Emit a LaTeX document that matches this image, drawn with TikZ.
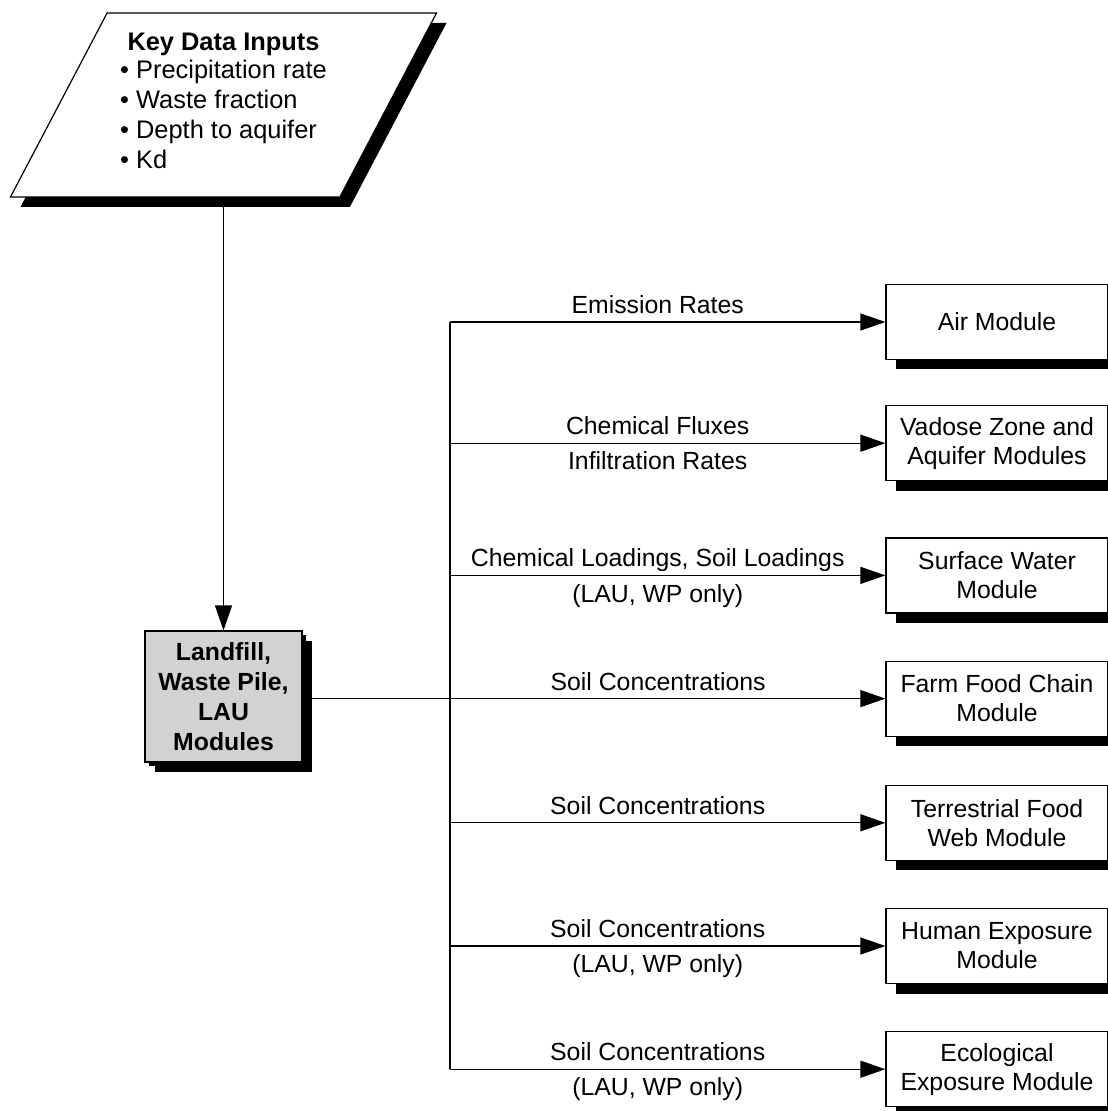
\documentclass[tikz,border=0pt]{standalone}
\usepackage{fontspec}
\setmainfont{Liberation Sans}
\usetikzlibrary{positioning,arrows.meta,shapes.geometric,shadows}

\begin{document}
\begin{tikzpicture}[
    x=0.5pt,
    y=-0.5pt,
    font=\fontsize{12.4}{14.5}\selectfont,
    module/.style={
        draw,
        line width=0.6pt,
        fill=white,
        minimum width=111pt,
        minimum height=37.5pt,
        align=center,
        drop shadow={shadow xshift=5pt, shadow yshift=-5pt, fill=black, opacity=1}
    },
    source/.style={
        module,
        fill=gray!35,
        font=\fontsize{12.4}{15}\selectfont\bfseries,
        minimum width=78.5pt,
        minimum height=65.5pt,
        drop shadow={shadow xshift=2pt, shadow yshift=-2pt, fill=black, opacity=1}
    },
    inputs/.style={
        module,
        trapezium,
        trapezium left angle=60,
        trapezium right angle=120,
        trapezium stretches=true,
        minimum width=213.5pt,
        minimum height=92pt,
        font=\fontsize{12.7}{15}\selectfont
    },
    arrow/.style={-{Triangle[length=12.5pt, width=8.5pt]}, line width=0.6pt},
    lbl/.style={inner sep=0pt, text height=9pt, text depth=3pt},
    up/.style={lbl, above=1pt},
    down/.style={lbl, below=4pt}
]
\useasboundingbox (0,0) rectangle (1107,1111);

% ============================================================
% WEJSCIA I MODUL ZRODLA
% ============================================================
\node[inputs] (inputs) at (223.5,105) {\textbf{Key Data Inputs}\\
    \begin{tabular}{@{}l@{}}
    \textbullet\ Precipitation rate\\
    \textbullet\ Waste fraction\\
    \textbullet\ Depth to aquifer\\
    \textbullet\ Kd
    \end{tabular}};
\node[source] (lau) at (223.5,696.5) {Landfill,\\Waste Pile,\\LAU\\Modules};

\draw[arrow] (inputs.south) -- (lau.north);

% ============================================================
% MODULY DOCELOWE
% ============================================================
\node[module] (air) at (997,322) {Air Module};
\node[module, below=22.5pt of air] (vadose) {Vadose Zone and\\Aquifer Modules};
\node[module, below=28pt of vadose] (surf) {Surface Water\\Module};
\node[module, below=23.5pt of surf] (farm) {Farm Food Chain\\Module};
\node[module, below=24pt of farm] (terr) {Terrestrial Food\\Web Module};
\node[module, below=23.5pt of terr] (human) {Human Exposure\\Module};
\node[module, below=23.5pt of human] (eco) {Ecological\\Exposure Module};

% ============================================================
% POLACZENIA
% ============================================================
\coordinate (split) at (450,698);

\draw[line width=0.6pt] (split |- air.west) -- (split |- eco.west);
\draw[arrow] (lau.east |- farm.west) -- node[up, pos=0.61] {Soil Concentrations} (farm.west);
\draw[arrow] (split |- air.west) -- node[up, pos=0.477] {Emission Rates} (air.west);
\draw[arrow] (split |- vadose.west) -- node[up, pos=0.477] {Chemical Fluxes}
    node[down, pos=0.477] {Infiltration Rates} (vadose.west);
\draw[arrow] (split |- surf.west) -- node[up, pos=0.477] {Chemical Loadings, Soil Loadings}
    node[down, pos=0.477] {(LAU, WP only)} (surf.west);
\draw[arrow] (split |- terr.west) -- node[up, pos=0.477] {Soil Concentrations} (terr.west);
\draw[arrow] (split |- human.west) -- node[up, pos=0.477] {Soil Concentrations}
    node[down, pos=0.477] {(LAU, WP only)} (human.west);
\draw[arrow] (split |- eco.west) -- node[up, pos=0.477] {Soil Concentrations}
    node[down, pos=0.477] {(LAU, WP only)} (eco.west);

\end{tikzpicture}
\end{document}
